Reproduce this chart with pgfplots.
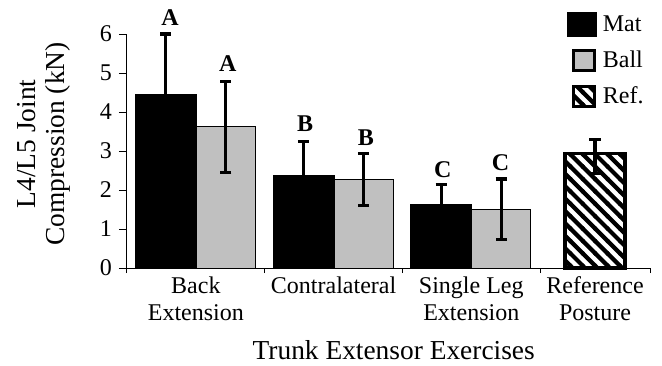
\documentclass[border=0pt]{standalone}
\usepackage{pgfplots}
\pgfplotsset{compat=1.18}
\usepackage{fontspec}
\setmainfont{Liberation Serif}
\usetikzlibrary{patterns}
\definecolor{ballgray}{RGB}{192,192,192}
\pgfdeclarepatternformonly{thicknw}{\pgfqpoint{-1pt}{-1pt}}{\pgfqpoint{7.2pt}{7.2pt}}{\pgfqpoint{6.2pt}{6.2pt}}{%
  \pgfsetlinewidth{2.1pt}%
  \pgfpathmoveto{\pgfqpoint{-0.5pt}{6.7pt}}%
  \pgfpathlineto{\pgfqpoint{6.7pt}{-0.5pt}}%
  \pgfusepath{stroke}}
\newcommand\legbb{\pgfpathrectangle{\pgfpoint{0pt}{-6pt}}{\pgfpoint{14.5pt}{12pt}}\pgfusepath{use as bounding box}}
\begin{document}
\begin{tikzpicture}
\begin{axis}[
  width=261.5pt, height=117pt, scale only axis,
  xmin=-0.5, xmax=3.298, ymin=0, ymax=6,
  axis x line*=bottom, axis y line*=left,
  clip=false,
  xtick={0,1,2,2.899},
  xticklabels={{Back\\Extension},{Contralateral},{Single Leg\\Extension},{Reference\\Posture}},
  minor xtick={-0.5,0.5,1.5,2.5,3.298},
  major x tick style={draw=none},
  ytick={0,1,2,3,4,5,6},
  tick align=outside,
  major tick length=4pt, minor tick length=2.5pt,
  tick style={black, line width=0.5pt},
  axis line style={black, line width=0.5pt},
  xticklabel style={align=center, inner sep=0pt, font=\fontsize{12}{13.5}\selectfont},
  yticklabel style={font=\fontsize{12}{14}\selectfont},
  /pgf/number format/assume math mode=true,
  xlabel={Trunk Extensor Exercises},
  xlabel style={at={(axis description cs:0.51,-0.389)}, anchor=base, font=\fontsize{13.7}{16}\selectfont},
  ylabel={L4/L5 Joint\\Compression (kN)},
  ylabel style={at={(axis description cs:-0.107,0.53)}, anchor=south, inner sep=0pt, align=center, font=\fontsize{13.7}{14.5}\selectfont},
  legend style={at={(axis description cs:0.843,1.1197)}, anchor=north west, draw=none, fill=none,
    inner sep=0pt, outer sep=0pt, row sep=0pt, column sep=3pt, cells={anchor=west},
    nodes={inner sep=0pt, text height=12.5pt, text depth=5.5pt, font=\fontsize{12}{14}\selectfont}},
]
\addplot[ybar, fill=black, draw=black, line width=0.5pt, bar width=30.5pt, bar shift=0pt,
  error bars/.cd, y dir=both, y explicit,
  error bar style={line width=1.6pt, black},
  error mark options={rotate=90, mark size=2.8pt, line width=1.6pt, black},
  /pgfplots/.cd,
  legend image code/.code={\legbb \fill[black] (0pt,-6pt) rectangle (14.5pt,6pt);}]
  coordinates {(-0.218,4.46) +- (0,1.54) (0.782,2.38) +- (0,0.86) (1.782,1.62) +- (0,0.53)};
\addlegendentry{Mat}
\addplot[ybar, fill=ballgray, draw=black, line width=0.5pt, bar width=29.5pt, bar shift=0pt,
  error bars/.cd, y dir=both, y explicit,
  error bar style={line width=1.6pt, black},
  error mark options={rotate=90, mark size=2.8pt, line width=1.6pt, black},
  /pgfplots/.cd,
  legend image code/.code={\legbb \draw[line width=1.5pt, fill=ballgray] (2.75pt,-5pt) rectangle (13.25pt,5pt);}]
  coordinates {(0.218,3.62) +- (0,1.17) (1.218,2.27) +- (0,0.67) (2.218,1.51) +- (0,0.77)};
\addlegendentry{Ball}
\addplot[ybar, fill=white, pattern=thicknw, pattern color=black, draw=black, line width=1.6pt, bar width=30pt, bar shift=0pt,
  error bars/.cd, y dir=both, y explicit,
  error bar style={line width=1.6pt, black},
  error mark options={rotate=90, mark size=2.8pt, line width=1.6pt, black},
  /pgfplots/.cd,
  legend image code/.code={\legbb \draw[line width=1.5pt, fill=white] (2.75pt,-5pt) rectangle (13.25pt,5pt); \draw[line width=1.5pt, pattern=thicknw] (2.75pt,-5pt) rectangle (13.25pt,5pt);}]
  coordinates {(2.899,2.94) += (0,0.36) -= (0,0.51)};
\addlegendentry{Ref.}
\node[anchor=base, font=\fontsize{12}{14}\selectfont\bfseries] at ([xshift=-12.9pt]axis cs:0,6.23) {A};
\node[anchor=base, font=\fontsize{12}{14}\selectfont\bfseries] at ([xshift=16pt]axis cs:0,5.03) {A};
\node[anchor=base, font=\fontsize{12}{14}\selectfont\bfseries] at ([xshift=-14.25pt]axis cs:1,3.49) {B};
\node[anchor=base, font=\fontsize{12}{14}\selectfont\bfseries] at ([xshift=16.1pt]axis cs:1,3.15) {B};
\node[anchor=base, font=\fontsize{12}{14}\selectfont\bfseries] at ([xshift=-14.25pt]axis cs:2,2.33) {C};
\node[anchor=base, font=\fontsize{12}{14}\selectfont\bfseries] at ([xshift=14.6pt]axis cs:2,2.49) {C};
\end{axis}
\pgfresetboundingbox
\path[use as bounding box] (-63.5pt,-48.5pt) rectangle (267.5pt,134pt);
\end{tikzpicture}
\end{document}
